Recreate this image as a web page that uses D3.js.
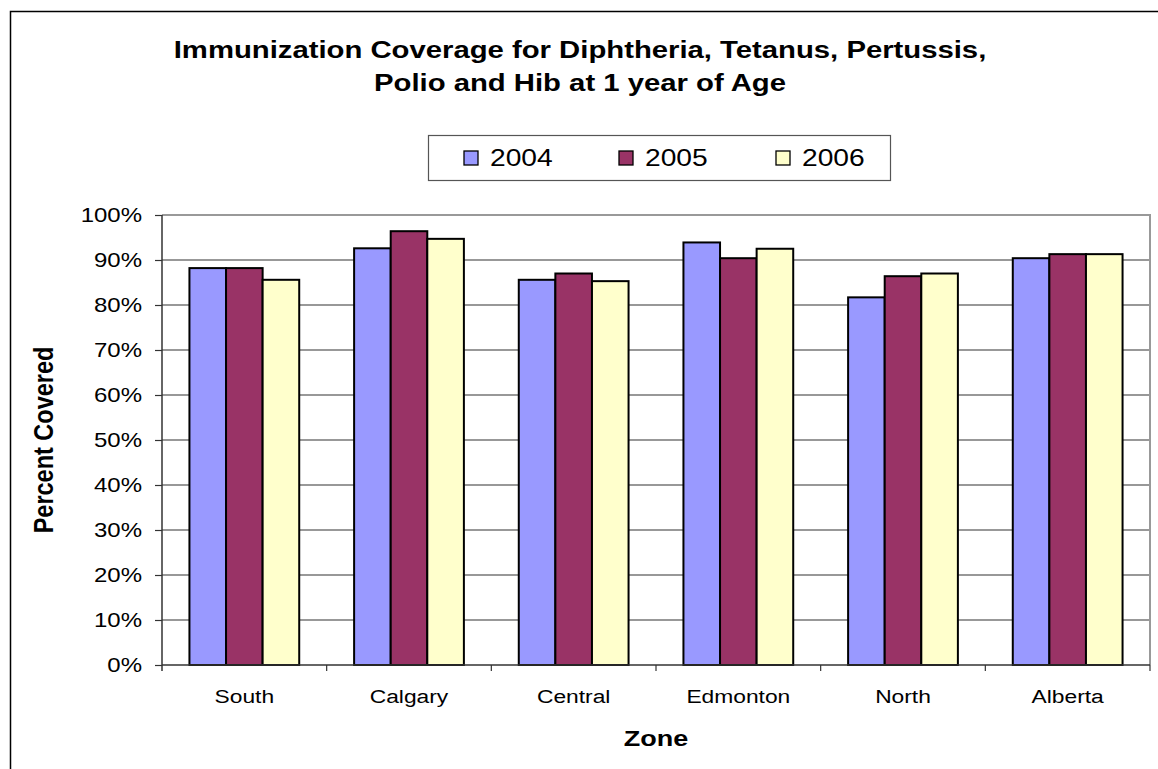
<!DOCTYPE html>
<html>
<head>
<meta charset="utf-8">
<script src="https://cdn.jsdelivr.net/npm/d3@7"></script>
<style>
  html, body { margin: 0; padding: 0; background: #fff; }
  svg { display: block; font-family: Arial, "Liberation Sans", sans-serif; }
</style>
</head>
<body>
<svg id="chart" width="1158" height="769"></svg>
<script>
// Immunization coverage (DTaP-IPV-Hib at 1 year) by zone, percent
const zones = ["South", "Calgary", "Central", "Edmonton", "North", "Alberta"];
const years = ["2004", "2005", "2006"];
const cov2004 = [88.2, 92.6, 85.6, 93.9, 81.7, 90.4];
const cov2005 = [88.2, 96.4, 87.0, 90.4, 86.4, 91.3];
const cov2006 = [85.6, 94.7, 85.3, 92.5, 87.0, 91.3];
const yTicks = [0, 10, 20, 30, 40, 50, 60, 70, 80, 90, 100];
const colors = ["#9999FF", "#993366", "#FFFFCC"];

const seriesValues = [cov2004, cov2005, cov2006];
const rows = zones.map((z, i) => ({
  zone: z,
  values: years.map((y, k) => ({ year: y, value: seriesValues[k][i] }))
}));

const svg = d3.select("#chart");
const sx = 1.2; // horizontal glyph stretch used by the chart text

const plot = { left: 162, right: 1150, top: 215, bottom: 665 };

const x0 = d3.scaleBand().domain(zones).range([plot.left, plot.right]).padding(0);
const x1 = d3.scaleBand().domain(years).range([0, x0.bandwidth()])
  .paddingInner(0).paddingOuter(0.75);
const y = d3.scaleLinear().domain([0, 100]).range([plot.bottom, plot.top]);
const color = d3.scaleOrdinal().domain(years).range(colors);

// text helper with horizontal stretch
function label(parent, x, yPos, str, opts) {
  const g = parent.append("g")
    .attr("transform", `translate(${x},${yPos}) scale(${sx},1)` + (opts.rotate ? ` rotate(${opts.rotate})` : ""));
  g.append("text")
    .attr("text-anchor", opts.anchor || "middle")
    .attr("dominant-baseline", opts.baseline || "auto")
    .attr("font-size", opts.size)
    .attr("font-weight", opts.bold ? "bold" : "normal")
    .attr("fill", "#000")
    .text(str);
  return g;
}

// outer chart frame
svg.append("rect")
  .attr("x", 10.5).attr("y", 11.5)
  .attr("width", 1160).attr("height", 780)
  .attr("fill", "none").attr("stroke", "#000").attr("stroke-width", 1.5);

// title
label(svg, 580, 58, "Immunization Coverage for Diphtheria, Tetanus, Pertussis,", { size: 24.4, bold: true });
label(svg, 580, 91, "Polio and Hib at 1 year of Age", { size: 24.4, bold: true });

// gridlines
svg.append("g")
  .selectAll("line")
  .data(yTicks.filter(t => t > 0 && t < 100))
  .join("line")
  .attr("x1", plot.left).attr("x2", plot.right)
  .attr("y1", d => y(d)).attr("y2", d => y(d))
  .attr("stroke", "#333").attr("stroke-width", 1.2);

// plot-area border (top and right)
svg.append("path")
  .attr("d", `M${plot.left},${y(100)}H${plot.right}V${plot.bottom}`)
  .attr("fill", "none").attr("stroke", "#999").attr("stroke-width", 2);

// bars
const groups = svg.append("g")
  .selectAll("g")
  .data(rows)
  .join("g")
  .attr("transform", d => `translate(${x0(d.zone)},0)`);

groups.selectAll("rect")
  .data(d => d.values)
  .join("rect")
  .attr("x", d => x1(d.year))
  .attr("y", d => y(d.value))
  .attr("width", x1.bandwidth())
  .attr("height", d => y(0) - y(d.value))
  .attr("fill", d => color(d.year))
  .attr("stroke", "#000")
  .attr("stroke-width", 2);

// y axis
const yAxis = svg.append("g")
  .attr("transform", `translate(${plot.left},0)`)
  .call(d3.axisLeft(y).tickValues(yTicks).tickSize(7).tickFormat(""));
yAxis.select(".domain").attr("d", `M0,${y(100)}V${plot.bottom + 6}`).attr("stroke", "#333").attr("stroke-width", 1.5);
yAxis.selectAll(".tick line").attr("stroke", "#333").attr("stroke-width", 1.2);

yTicks.forEach(t => {
  label(svg, 142, y(t), t + "%", { size: 20, anchor: "end", baseline: "central" });
});

// x axis
const xAxis = svg.append("g")
  .attr("transform", `translate(0,${plot.bottom})`)
  .call(d3.axisBottom(x0).tickSize(0).tickFormat(""));
xAxis.select(".domain").attr("d", `M${plot.left},0H${plot.right}`).attr("stroke", "#333").attr("stroke-width", 1.5);
xAxis.selectAll(".tick line").remove();
// boundary tick marks between categories
xAxis.append("g")
  .selectAll("line")
  .data(zones.slice(1).concat(["__end"]))
  .join("line")
  .attr("x1", d => d === "__end" ? plot.right : x0(d))
  .attr("x2", d => d === "__end" ? plot.right : x0(d))
  .attr("y1", 0).attr("y2", 6)
  .attr("stroke", "#333").attr("stroke-width", 1.2);

zones.forEach(z => {
  label(svg, x0(z) + x0.bandwidth() / 2, 703, z, { size: 19 });
});

// axis titles
label(svg, 656, 746, "Zone", { size: 22.5, bold: true });
label(svg, 53, 440, "Percent Covered", { size: 23.5, bold: true, rotate: -90 });

// legend
const legend = svg.append("g");
legend.append("rect")
  .attr("x", 428.5).attr("y", 135.5).attr("width", 462).attr("height", 45)
  .attr("fill", "#fff").attr("stroke", "#555").attr("stroke-width", 1.2);
const legendX = [464, 619, 776];
years.forEach((yr, i) => {
  legend.append("rect")
    .attr("x", legendX[i]).attr("y", 151)
    .attr("width", 14).attr("height", 14)
    .attr("fill", color(yr)).attr("stroke", "#000").attr("stroke-width", 1.3);
  label(legend, legendX[i] + 26, 166, yr, { size: 23.5, anchor: "start" });
});
</script>
</body>
</html>
